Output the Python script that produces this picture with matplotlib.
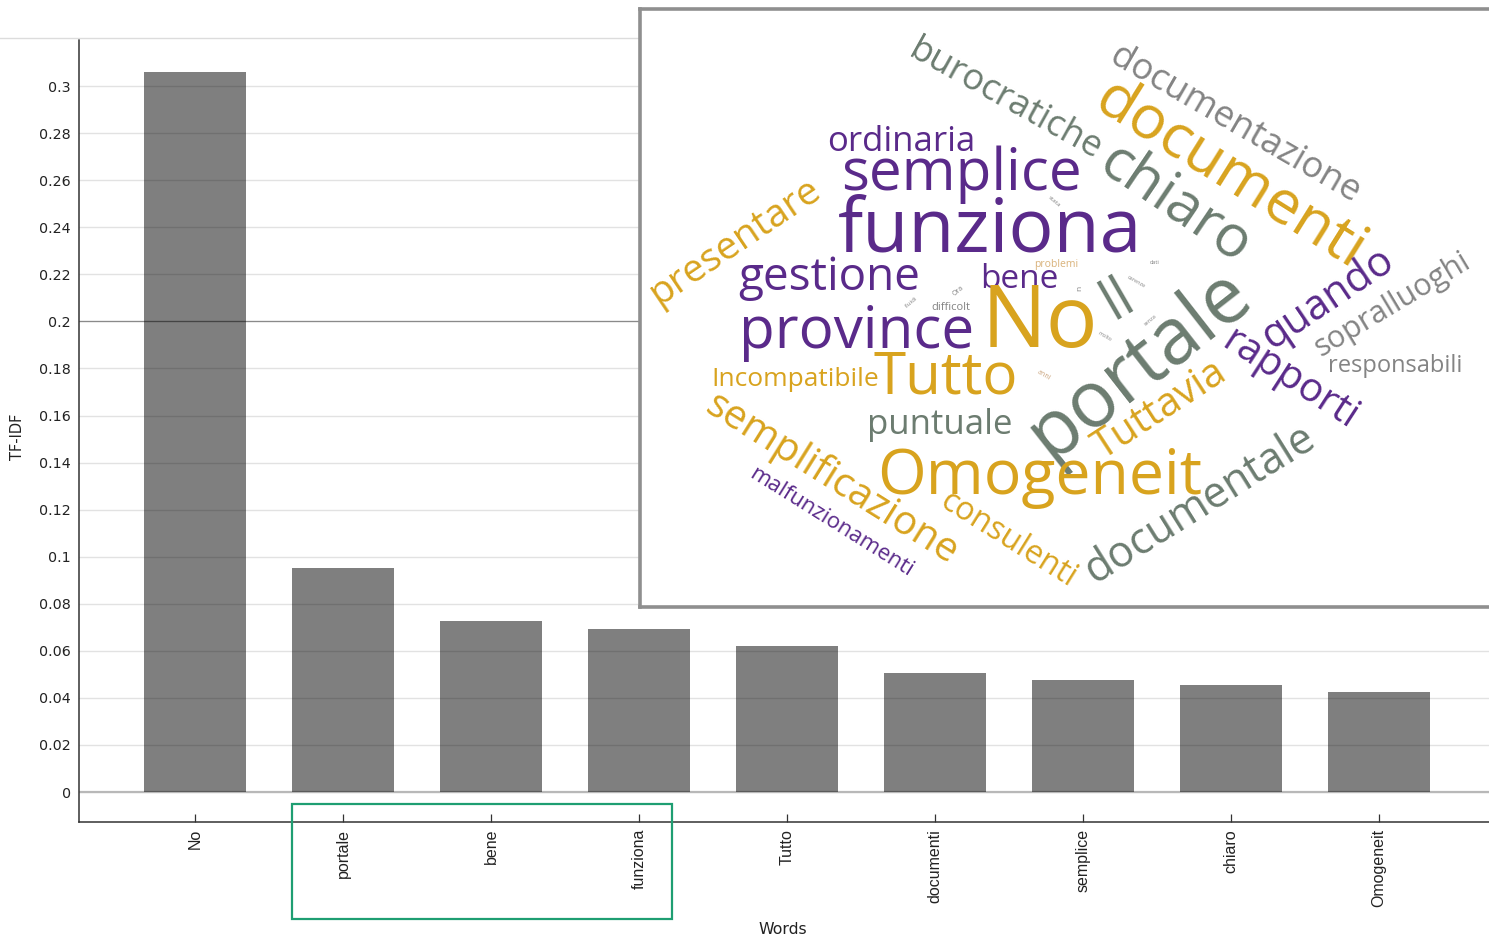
import matplotlib
matplotlib.use("Agg")
import matplotlib.pyplot as plt
from matplotlib.patches import Rectangle
from matplotlib.lines import Line2D

# ---------------- data ----------------
words = ["No", "portale", "bene", "funziona", "Tutto", "documenti",
         "semplice", "chiaro", "Omogeneit"]
tfidf = [0.306, 0.0952, 0.0727, 0.0693, 0.0620, 0.0506, 0.0476, 0.0455, 0.0425]
ytick_values = [0, 0.02, 0.04, 0.06, 0.08, 0.1, 0.12, 0.14, 0.16, 0.18,
                0.2, 0.22, 0.24, 0.26, 0.28, 0.3]
ytick_labels = ["0", "0.02", "0.04", "0.06", "0.08", "0.1", "0.12", "0.14",
                "0.16", "0.18", "0.2", "0.22", "0.24", "0.26", "0.28", "0.3"]

# word cloud content (inset)
cloud_words = ["burocratiche", "documentazione", "documenti", "chiaro", "ordinaria",
               "semplice", "funziona", "presentare", "gestione", "bene", "province",
               "No", "ll", "portale", "quando", "sopralluoghi", "rapporti",
               "responsabili", "Incompatibile", "Tutto", "puntuale", "Tuttavia",
               "semplificazione", "Omogeneit", "malfunzionamenti", "consulenti",
               "documentale", "problemi", "difficolt", "Ora", "anni", "stata", "n",
               "fluidi", "carenze", "senza", "molto", "dati"]
cloud_sizes = [26, 26, 44, 42, 25, 42, 54, 28, 33, 24, 42,
               62, 40, 56, 30, 22, 29, 17, 19, 42, 25, 29,
               29, 45, 16, 23, 31, 7.5, 8, 5, 5, 4.5, 6, 4.5, 4, 4, 4, 4]
PURPLE, GOLD, SAGE, GRAY = "#5a2a8a", "#d8a31e", "#6c7c70", "#848484"
cloud_colors = [SAGE, GRAY, GOLD, SAGE, PURPLE, PURPLE, PURPLE, GOLD, PURPLE, PURPLE,
                PURPLE, GOLD, SAGE, SAGE, PURPLE, GRAY, PURPLE, GRAY, GOLD, GOLD,
                SAGE, GOLD, GOLD, GOLD, PURPLE, GOLD, SAGE, "#d9b27a", GRAY, GRAY,
                "#c9a27a", GRAY, GRAY, GRAY, GRAY, GRAY, GRAY, GRAY]
cloud_x = [1005, 1235, 1230, 1175, 901, 961, 990, 735, 829, 1019, 857,
           1040, 1118, 1140, 1328, 1393, 1290, 1395, 795, 946, 940, 1160,
           832, 1040, 831, 1008, 1200, 1056, 951, 958, 1044, 1054, 1080,
           912, 1136, 1150, 1105, 1155]
cloud_y = [100, 125, 175, 205, 142, 175, 232, 242, 278, 280, 333,
           325, 300, 365, 298, 305, 380, 366, 379, 378, 425, 410,
           480, 478, 522, 540, 505, 265, 308, 291, 375, 202, 288,
           302, 282, 320, 336, 262]
cloud_rot = [-29, -30, -32, -34, 0, 0, 0, 34, 0, 0, 0,
             0, 30, 38, 34, 31, -33, 0, 0, 0, 0, 33,
             -32, 0, -32, -32, 32, 0, 0, 40, -30, -40, 90,
             40, -30, 40, -30, 0]

# ---------------- figure ----------------
W, H = 1489, 941
fig = plt.figure(figsize=(W / 100, H / 100), dpi=100)
fig.patch.set_facecolor("white")

# faint top border line
fig.add_artist(Line2D([0, 1], [1 - 38 / H, 1 - 38 / H], color="#dcdcdc", lw=1.0))

ax = fig.add_axes([79 / W, (H - 822) / H, 1 - 79 / W, (822 - 40) / H])
x = list(range(len(words)))
ax.bar(x, tfidf, width=0.69, color="black", alpha=0.5, zorder=2, linewidth=0)
ax.set_xlim(-0.784, 8.743)
ax.set_ylim(-0.01275, 0.3196)
ax.set_yticks(ytick_values)
ax.set_yticklabels(ytick_labels, fontfamily="DejaVu Sans", fontsize=10.3, color="#222222")
ax.set_axisbelow(True)
ax.yaxis.grid(True, color="#e2e2e2", lw=1.0, zorder=0)
ax.axhline(0.2, color="#8a8a8a", lw=0.9, zorder=1)
ax.axhline(0, color="#b8b8b8", lw=1.6, zorder=1)
ax.set_xticks(x)
ax.set_xticklabels(words, rotation=90, fontfamily="Liberation Sans", fontsize=11.5,
                   color="#222222", va="top", ha="center")
ax.tick_params(axis="y", length=0, pad=6)
ax.tick_params(axis="x", direction="in", length=5.5, width=0.9, pad=5, color="#333333")
for s in ["top", "right"]:
    ax.spines[s].set_visible(False)
for s in ["left", "bottom"]:
    ax.spines[s].set_color("#333333")
    ax.spines[s].set_linewidth(1.1)

fig.text(17 / W, 1 - 437 / H, "TF-IDF", rotation=90, ha="center", va="center",
         fontfamily="DejaVu Sans", fontsize=10.5, color="#222222")
fig.text(783 / W, 1 - 930 / H, "Words", ha="center", va="center",
         fontfamily="DejaVu Sans", fontsize=11.3, color="#222222")

# green highlight rectangle
fig.add_artist(Rectangle((292 / W, (H - 919) / H), 380 / W, 115 / H,
                         transform=fig.transFigure, fill=False,
                         edgecolor="#1e9e72", lw=1.6))

# ---------------- word cloud inset ----------------
wc = fig.add_axes([639.5 / W, (H - 607) / H, (1500 - 639.5) / W, (607 - 9.5) / H])
wc.set_zorder(5)
wc.set_facecolor("white")
wc.set_xlim(639.5, 1500)
wc.set_ylim(607, 9.5)
wc.set_xticks([])
wc.set_yticks([])
for s in wc.spines.values():
    s.set_color("#8f8f8f")
    s.set_linewidth(2.6)
for w_, sz, c, xx, yy, r in zip(cloud_words, cloud_sizes, cloud_colors,
                                cloud_x, cloud_y, cloud_rot):
    wc.text(xx, yy, w_, fontsize=sz, color=c, rotation=r, rotation_mode="anchor",
            ha="center", va="center", fontfamily="Open Sans")

fig.savefig("out.png", dpi=100)
